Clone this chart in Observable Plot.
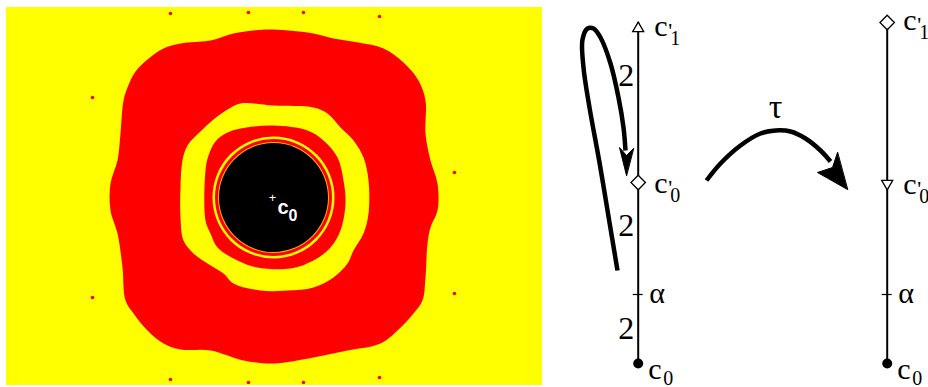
<!DOCTYPE html>
<html>
<head>
<meta charset="utf-8">
<script src="https://cdn.jsdelivr.net/npm/d3@7"></script>
<script src="https://cdn.jsdelivr.net/npm/@observablehq/plot@0.6"></script>
<style>
  html, body { margin: 0; padding: 0; background: #fff; }
  #chart svg { display: block; }
</style>
</head>
<body>
<div id="chart"></div>
<script>
// ---------- Data (complex-plane units; c0 at the origin) ----------
const c0 = [0, 0];
const imageRe = [-2.67, 2.69];
const imageIm = [-1.88, 1.90];

// outer red region boundary (re, im)
const outerRed = [
  [0, 1.68], [0.40, 1.64], [0.60, 1.59], [0.85, 1.55], [1.10, 1.49], [1.30, 1.35], [1.45, 1.17],
  [1.52, 0.97], [1.52, 0.64], [1.57, 0.37], [1.64, 0.14], [1.64, -0.13], [1.57, -0.30],
  [1.54, -0.46], [1.52, -0.80], [1.49, -1.03], [1.40, -1.16], [1.24, -1.33], [1.07, -1.46],
  [0.74, -1.53], [0.40, -1.60], [0, -1.66], [-0.30, -1.63], [-0.63, -1.53], [-0.93, -1.52],
  [-1.10, -1.46], [-1.26, -1.33], [-1.40, -1.16], [-1.48, -1.03], [-1.51, -0.70], [-1.56, -0.36],
  [-1.63, -0.13], [-1.63, 0.14], [-1.56, 0.37], [-1.53, 0.64], [-1.50, 0.97], [-1.46, 1.10],
  [-1.38, 1.26], [-1.26, 1.38], [-1.10, 1.49], [-0.93, 1.54], [-0.63, 1.57], [-0.40, 1.64],
  [-0.20, 1.67]
];
// yellow annulus outer boundary
const yellowRing = [
  [-0.33, 0.94], [0, 0.92], [0.40, 0.90], [0.54, 0.84], [0.67, 0.70], [0.80, 0.57],
  [0.90, 0.40], [0.95, 0.17], [0.95, -0.16], [0.90, -0.36], [0.80, -0.53], [0.74, -0.66],
  [0.60, -0.80], [0.40, -0.90], [0.14, -0.93], [-0.13, -0.93], [-0.40, -0.86], [-0.50, -0.76],
  [-0.66, -0.66], [-0.80, -0.56], [-0.90, -0.43], [-0.93, -0.20], [-0.93, 0.10], [-0.91, 0.37],
  [-0.86, 0.52], [-0.73, 0.66], [-0.60, 0.78], [-0.46, 0.88]
];
// inner red ring outer boundary
const redRing = [
  [0, 0.72], [0.34, 0.67], [0.50, 0.57], [0.64, 0.40], [0.70, 0.17], [0.72, -0.06],
  [0.67, -0.33], [0.57, -0.50], [0.40, -0.63], [0.17, -0.71], [-0.16, -0.70], [-0.36, -0.63],
  [-0.56, -0.50], [-0.63, -0.36], [-0.68, -0.23], [-0.68, 0.27], [-0.65, 0.42], [-0.58, 0.56],
  [-0.48, 0.64], [-0.33, 0.69]
];
// thin rings around the black disk (radius, colour)
const ringRadii = [0.61, 0.585, 0.555, 0.545];
const ringColors = ["#ffff00", "#ff0000", "#ffb000", "#000000"];
// isolated red specks in the yellow region
const specks = [
  [-1.03, 1.84], [-0.25, 1.85], [0.30, 1.85], [1.06, 1.81], [-1.81, 1.00], [-1.81, -1.00],
  [1.81, 0.25], [1.81, -0.96], [-1.03, -1.82], [-0.25, -1.85], [0.30, -1.85], [1.06, -1.80]
];

// ---------- Diagram (same units) ----------
const lineX = [3.647, 6.137];
const lineTop = 1.75, lineBottom = -1.66;
const levelTop = [1.69, 1.75];      // c'1 marker per diagram
const levelC0p = [0.15, 0.14];      // c'0 marker
const levelAlpha = -0.97;
const levelC0 = -1.66;
const degreeY = [1.22, -0.28, -1.31];
const degreeText = ["2", "2", "2"];

const loopCurve = [
  [3.44, -0.73], [3.36, -0.25], [3.26, 0.35], [3.16, 0.90], [3.10, 1.30],
  [3.09, 1.58], [3.14, 1.69], [3.20, 1.69], [3.27, 1.60], [3.37, 1.34], [3.45, 1.00],
  [3.50, 0.70], [3.52, 0.47]
];
const loopHead = [[3.53, 0.22], [3.46, 0.50], [3.53, 0.42], [3.60, 0.49]];
const tauCurve = [
  [4.33, 0.17], [4.47, 0.34], [4.67, 0.52], [4.87, 0.64], [5.02, 0.67], [5.17, 0.66],
  [5.32, 0.59], [5.47, 0.47], [5.57, 0.36]
];
const tauHead = [[5.74, 0.08], [5.44, 0.25], [5.59, 0.30], [5.64, 0.45]];
const tauLabel = [5.02, 0.80];

// ---------- Build tables ----------
const P = (a) => a.map(([x, y]) => ({x, y}));
const rings = ringRadii.map((r, i) => ({x: c0[0], y: c0[1], r, color: ringColors[i]}));
const serif = "Liberation Serif, Times New Roman, serif";
const sans = "Liberation Sans, Arial, sans-serif";

const triUp = [{x: lineX[0], y: levelTop[0]}];
const triDown = [{x: lineX[1], y: levelC0p[1]}];
const diamonds = [{x: lineX[0], y: levelC0p[0]}, {x: lineX[1], y: levelTop[1]}];
const topLabels = lineX.map((x, i) => ({x, y: levelTop[i]}));
const c0pLabels = lineX.map((x, i) => ({x, y: levelC0p[i]}));
const alphaLabels = lineX.map((x) => ({x, y: levelAlpha}));
const c0Labels = lineX.map((x) => ({x, y: levelC0}));
const degrees = degreeY.map((y, i) => ({x: lineX[0], y, t: degreeText[i]}));
const lines = lineX.map((x) => ({x, y1: lineTop, y2: lineBottom}));
const ticks = lineX.map((x) => ({x1: x - 0.05, x2: x + 0.05, y: levelAlpha}));

const chart = Plot.plot({
  width: 928,
  height: 387,
  margin: 0,
  style: {background: "white"},
  x: {domain: [-2.73, 6.55], axis: null},
  y: {domain: [-1.90, 1.97], axis: null},
  r: {type: "linear", domain: [0, 1], range: [0, 100]},
  color: {type: "identity"},
  marks: [
    // ----- parameter-plane picture -----
    Plot.rect([{x1: imageRe[0], x2: imageRe[1], y1: imageIm[0], y2: imageIm[1]}],
      {x1: "x1", x2: "x2", y1: "y1", y2: "y2", fill: "#ffff00"}),
    Plot.line(P(outerRed), {x: "x", y: "y", curve: "catmull-rom-closed", fill: "#ff0000", stroke: "none"}),
    Plot.line(P(yellowRing), {x: "x", y: "y", curve: "catmull-rom-closed", fill: "#ffff00", stroke: "none"}),
    Plot.line(P(redRing), {x: "x", y: "y", curve: "catmull-rom-closed", fill: "#ff0000", stroke: "none"}),
    Plot.dot(rings, {x: "x", y: "y", r: "r", fill: "color", stroke: "none"}),
    Plot.dot(P(specks), {x: "x", y: "y", r: 1.8, fill: "#ff0000"}),
    Plot.text([c0], {x: d => d[0], y: d => d[1], text: () => "+", fill: "white", fontSize: 13, fontFamily: sans, dx: -1, dy: 0}),
    Plot.text([c0], {x: d => d[0], y: d => d[1], text: () => "c", fill: "white", fontSize: 20, fontWeight: "bold", fontFamily: sans, textAnchor: "start", lineAnchor: "bottom", dx: 4, dy: 16}),
    Plot.text([c0], {x: d => d[0], y: d => d[1], text: () => "0", fill: "white", fontSize: 16, fontWeight: "bold", fontFamily: sans, textAnchor: "start", lineAnchor: "bottom", dx: 15, dy: 23}),

    // ----- diagrams -----
    Plot.ruleX(lines, {x: "x", y1: "y1", y2: "y2", stroke: "black", strokeWidth: 2}),
    Plot.ruleY(ticks, {y: "y", x1: "x1", x2: "x2", stroke: "black", strokeWidth: 1.2}),
    Plot.dot(triUp, {x: "x", y: "y", symbol: "triangle", r: 4.1, fill: "white", stroke: "black", strokeWidth: 1.3}),
    Plot.dot(triDown, {x: "x", y: "y", symbol: "triangle", rotate: 180, r: 4.1, fill: "white", stroke: "black", strokeWidth: 1.3}),
    Plot.dot(diamonds, {x: "x", y: "y", symbol: "diamond2", r: 6.5, fill: "white", stroke: "black", strokeWidth: 1.3}),
    Plot.dot(lines, {x: "x", y: levelC0, r: 5, fill: "black"}),

    Plot.line(P(loopCurve), {x: "x", y: "y", curve: "catmull-rom", stroke: "black", strokeWidth: 4.5, strokeLinecap: "butt"}),
    Plot.line(P(loopHead), {x: "x", y: "y", curve: "linear-closed", fill: "black", stroke: "black", strokeWidth: 1}),
    Plot.line(P(tauCurve), {x: "x", y: "y", curve: "catmull-rom", stroke: "black", strokeWidth: 4.5, strokeLinecap: "butt"}),
    Plot.line(P(tauHead), {x: "x", y: "y", curve: "linear-closed", fill: "black", stroke: "black", strokeWidth: 1}),
    Plot.text([tauLabel], {x: d => d[0], y: d => d[1], text: () => "τ", fontSize: 34, fontFamily: serif, lineAnchor: "bottom", fill: "black"}),

    // labels c'1
    Plot.text(topLabels, {x: "x", y: "y", text: () => "c", fontSize: 30, fontFamily: serif, textAnchor: "start", lineAnchor: "bottom", dx: 16, dy: 7}),
    Plot.text(topLabels, {x: "x", y: "y", text: () => "'", fontSize: 22, fontFamily: serif, textAnchor: "start", lineAnchor: "bottom", dx: 30, dy: 9}),
    Plot.text(topLabels, {x: "x", y: "y", text: () => "1", fontSize: 20, fontFamily: serif, textAnchor: "start", lineAnchor: "bottom", dx: 32, dy: 16}),
    // labels c'0
    Plot.text(c0pLabels, {x: "x", y: "y", text: () => "c", fontSize: 30, fontFamily: serif, textAnchor: "start", lineAnchor: "bottom", dx: 16, dy: 10}),
    Plot.text(c0pLabels, {x: "x", y: "y", text: () => "'", fontSize: 22, fontFamily: serif, textAnchor: "start", lineAnchor: "bottom", dx: 30, dy: 12}),
    Plot.text(c0pLabels, {x: "x", y: "y", text: () => "0", fontSize: 20, fontFamily: serif, textAnchor: "start", lineAnchor: "bottom", dx: 32, dy: 19}),
    // labels alpha
    Plot.text(alphaLabels, {x: "x", y: "y", text: () => "α", fontSize: 30, fontFamily: serif, textAnchor: "start", lineAnchor: "bottom", dx: 11, dy: 8}),
    // labels c0
    Plot.text(c0Labels, {x: "x", y: "y", text: () => "c", fontSize: 30, fontFamily: serif, textAnchor: "start", lineAnchor: "bottom", dx: 10, dy: 15}),
    Plot.text(c0Labels, {x: "x", y: "y", text: () => "0", fontSize: 20, fontFamily: serif, textAnchor: "start", lineAnchor: "bottom", dx: 25, dy: 21}),
    // degree labels
    Plot.text(degrees, {x: "x", y: "y", text: "t", fontSize: 32, fontFamily: serif, textAnchor: "end", lineAnchor: "middle", dx: -4})
  ]
});
document.getElementById("chart").appendChild(chart);
</script>
</body>
</html>
